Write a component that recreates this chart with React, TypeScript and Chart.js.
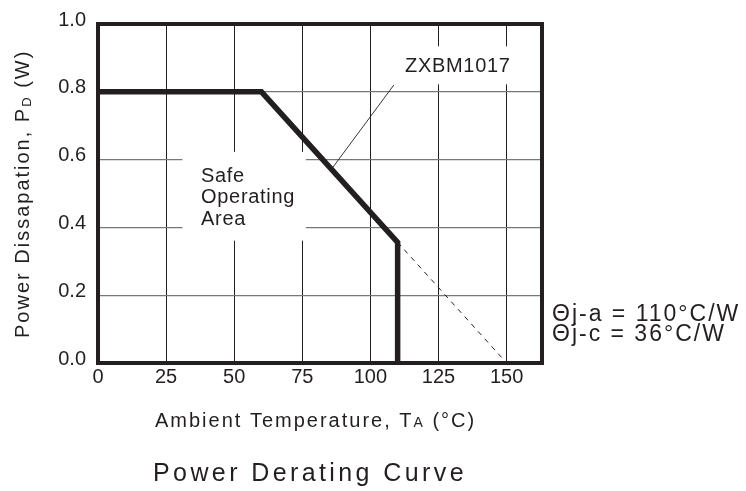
import React, { useEffect, useRef } from "react";
import { Chart, registerables } from "chart.js";

Chart.register(...registerables);

// ---- data ----
const tempTicks = [0, 25, 50, 75, 100, 125, 150];
const powerTicks = [0, 0.2, 0.4, 0.6, 0.8, 1.0];
const curveTemp = [0, 60, 110, 110];
const curvePower = [0.8, 0.8, 0.356, 0];
const extTemp = [110, 150];
const extPower = [0.356, 0];
const leaderTemp = [108.6, 86.3];
const leaderPower = [0.82, 0.578];
const seriesLabel = "ZXBM1017";
const areaLabel = ["Safe", "Operating", "Area"];
const thermalLabels = ["\u0398j-a = 110\u00B0C/W", "\u0398j-c = 36\u00B0C/W"];
const chartTitle = "Power Derating Curve";

// ---- layout ----
const FONT = '"Liberation Sans", Arial, Helvetica, sans-serif';
const INK = "#231f20";
const GRID_GAPS = [
  { t0: 31, t1: 76.3, p0: 0.361, p1: 0.623 },
  { t0: 112, t1: 156, p0: 0.822, p1: 0.934 },
];

function run(ctx: CanvasRenderingContext2D, parts: { text: string; size: number; dy?: number; sp: number }[], x: number, y: number) {
  let cx = x;
  for (const p of parts) {
    ctx.font = `${p.size}px ${FONT}`;
    (ctx as any).letterSpacing = `${p.sp}px`;
    ctx.fillText(p.text, cx, y + (p.dy || 0));
    cx += ctx.measureText(p.text).width;
  }
}

const decorPlugin = {
  id: "decor",
  beforeDraw(chart: any) {
    (chart.ctx as any).letterSpacing = "0px";
  },
  beforeDatasetsDraw(chart: any) {
    const { ctx, scales } = chart;
    const x = scales.x, y = scales.y;
    ctx.save();
    ctx.fillStyle = "#ffffff";
    for (const b of GRID_GAPS) {
      const x0 = x.getPixelForValue(b.t0), x1 = x.getPixelForValue(b.t1);
      const y0 = y.getPixelForValue(b.p1), y1 = y.getPixelForValue(b.p0);
      ctx.fillRect(x0, y0, x1 - x0, y1 - y0);
    }
    ctx.restore();
  },
  afterDatasetsDraw(chart: any) {
    const { ctx, chartArea: a } = chart;
    ctx.save();
    ctx.strokeStyle = INK;
    ctx.lineWidth = 4;
    ctx.lineJoin = "miter";
    ctx.strokeRect(a.left, a.top, a.right - a.left, a.bottom - a.top);

    ctx.fillStyle = INK;
    ctx.textAlign = "left";
    ctx.textBaseline = "alphabetic";

    // series label
    run(ctx, [{ text: seriesLabel, size: 20, sp: 0.7 }], 405, 72);
    // safe operating area
    areaLabel.forEach((t, i) => run(ctx, [{ text: t, size: 20, sp: 0.7 }], 201, 182 + i * 21.3));
    // thermal resistances
    thermalLabels.forEach((t, i) => run(ctx, [{ text: t, size: 23, sp: 2 }], 552, 321 + i * 20));
    // x axis title
    run(ctx, [
      { text: "Ambient Temperature, T", size: 20, sp: 2 },
      { text: "A", size: 14, sp: 2 },
      { text: " (\u00B0C)", size: 20, sp: 2 },
    ], 155, 427);
    // chart title
    run(ctx, [{ text: chartTitle, size: 25, sp: 3.4 }], 153, 481);
    // y axis title
    ctx.save();
    ctx.translate(29, 338);
    ctx.rotate(-Math.PI / 2);
    run(ctx, [
      { text: "Power Dissapation, P", size: 20, sp: 2 },
      { text: "D", size: 13, sp: 2, dy: 2 },
      { text: " (W)", size: 20, sp: 2 },
    ], 0, 0);
    ctx.restore();
    (ctx as any).letterSpacing = "0px";
    ctx.restore();
  },
};

export default function App() {
  const ref = useRef<HTMLCanvasElement | null>(null);
  useEffect(() => {
    if (!ref.current) return;
    const pts = (xs: number[], ys: number[]) => xs.map((v, i) => ({ x: v, y: ys[i] }));
    const chart = new Chart(ref.current, {
      type: "line",
      data: {
        datasets: [
          {
            label: seriesLabel,
            data: pts(curveTemp, curvePower),
            borderColor: INK,
            borderWidth: 5.5,
            pointRadius: 0,
            fill: false,
            tension: 0,
            borderJoinStyle: "miter",
            borderCapStyle: "butt",
          },
          {
            label: "extrapolation",
            data: pts(extTemp, extPower),
            borderColor: INK,
            borderWidth: 1,
            borderDash: [5, 5],
            pointRadius: 0,
            fill: false,
          },
          {
            label: "leader",
            data: pts(leaderTemp, leaderPower),
            borderColor: INK,
            borderWidth: 0.9,
            pointRadius: 0,
            fill: false,
          },
        ],
      },
      options: {
        responsive: false,
        animation: false,
        devicePixelRatio: 1,
        layout: { padding: { left: 0, top: 23, right: 204, bottom: 0 } },
        plugins: { legend: { display: false }, tooltip: { enabled: false }, title: { display: false } },
        scales: {
          x: {
            type: "linear",
            min: 0,
            max: 163,
            afterBuildTicks: (s: any) => {
              s.ticks = tempTicks.map((value) => ({ value }));
            },
            afterFit: (s: any) => {
              s.height = 128;
            },
            grid: { color: "#1e1e1e", lineWidth: 1, drawTicks: false },
            border: { display: false },
            ticks: {
              padding: 2,
              color: INK,
              font: { family: FONT, size: 20 },
              maxRotation: 0,
              autoSkip: false,
              callback: (v: any) => String(v),
            },
          },
          y: {
            type: "linear",
            min: 0,
            max: 1,
            afterBuildTicks: (s: any) => {
              s.ticks = powerTicks.map((value) => ({ value }));
            },
            afterFit: (s: any) => {
              s.width = 98;
            },
            grid: { color: "#777777", lineWidth: 1.2, drawTicks: false },
            border: { display: false },
            ticks: {
              padding: 12,
              labelOffset: -4,
              color: INK,
              font: { family: FONT, size: 20 },
              callback: (v: any) => Number(v).toFixed(1),
            },
          },
        },
      },
      plugins: [decorPlugin],
    } as any);
    return () => chart.destroy();
  }, []);
  return (
    <div style={{ position: "fixed", left: 0, top: 0, width: 746, height: 491, background: "#fff" }}>
      <canvas ref={ref} width={746} height={491} style={{ display: "block" }} />
    </div>
  );
}
